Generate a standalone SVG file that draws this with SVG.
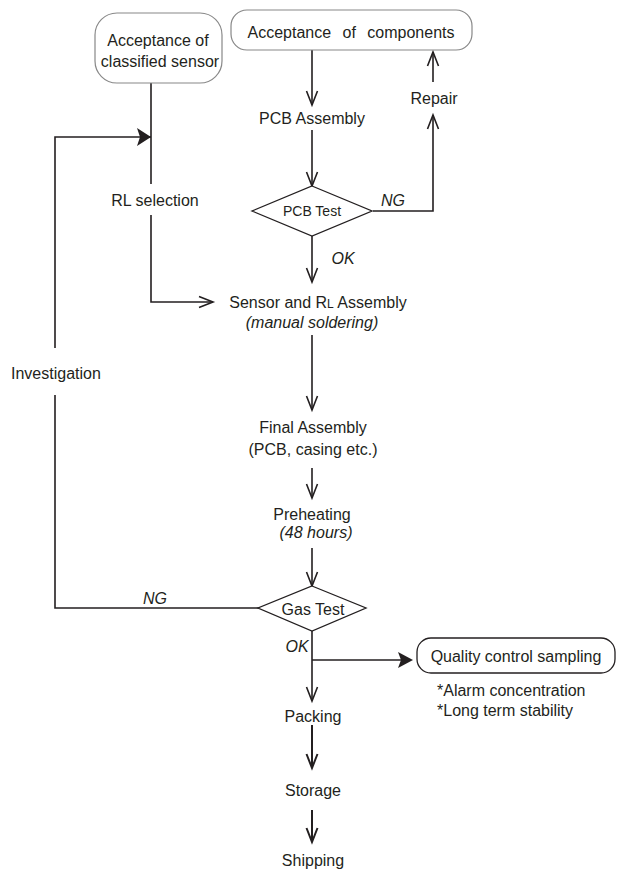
<svg xmlns="http://www.w3.org/2000/svg" width="621" height="869" viewBox="0 0 621 869">
<defs>
<style>
text{font-family:"Liberation Sans",Arial,sans-serif;font-size:16px;fill:#231f20;text-anchor:middle;dominant-baseline:central}
.it{font-style:italic}
.l{text-anchor:start}
.box{fill:#fff;stroke:#888;stroke-width:1.2}
.qbox{fill:#fff;stroke:#231f20;stroke-width:1.3}
.dia{fill:#fff;stroke:#231f20;stroke-width:1.3}
.c{fill:none;stroke:#231f20;stroke-width:1.6}
.v{fill:none;stroke:#231f20;stroke-width:1.6}
.f{fill:#231f20;stroke:none}
</style>
</defs>
<g id="connectors">
<line class="c" x1="312" y1="50" x2="312" y2="105"/>
<polyline class="v" points="306.5,91 312,105 317.5,91"/>
<line class="c" x1="312" y1="130" x2="312" y2="186"/>
<polyline class="v" points="306.5,172 312,186 317.5,172"/>
<polyline class="c" points="373,211 433,211 433,115"/>
<polyline class="v" points="427.5,129 433,115 438.5,129"/>
<line class="c" x1="433" y1="82" x2="433" y2="52"/>
<polyline class="v" points="427.5,66 433,52 438.5,66"/>
<text class="it" x="393" y="200">NG</text>
<line class="c" x1="312" y1="236" x2="312" y2="282"/>
<polyline class="v" points="306.5,268 312,282 317.5,268"/>
<text class="it" x="343" y="258">OK</text>
<line class="c" x1="151" y1="83" x2="151" y2="184"/>
<polyline class="c" points="151,215 151,302 213,302"/>
<polyline class="v" points="199,296.5 213,302 199,307.5"/>
<polyline class="c" points="263,608 55,608 55,395"/>
<polyline class="c" points="55,348 55,137 151,137"/>
<path class="f" d="M151,137 L137,128 L140,137 L137,146 Z"/>
<text class="it" x="155" y="598">NG</text>
<line class="c" x1="312" y1="335" x2="312" y2="410"/>
<polyline class="v" points="306.5,396 312,410 317.5,396"/>
<line class="c" x1="312" y1="468" x2="312" y2="498"/>
<polyline class="v" points="306.5,484 312,498 317.5,484"/>
<line class="c" x1="312" y1="548" x2="312" y2="586"/>
<polyline class="v" points="306.5,572 312,586 317.5,572"/>
<line class="c" x1="312" y1="631" x2="312" y2="701"/>
<polyline class="v" points="306.5,687 312,701 317.5,687"/>
<text class="it" x="297" y="646">OK</text>
<line class="c" x1="312" y1="660" x2="410" y2="660"/>
<path class="f" d="M413,660 L398,652 L401,660 L398,668 Z"/>
<line class="c" x1="312" y1="725" x2="312" y2="768" style="stroke-width:2"/>
<polyline class="v" points="306.5,754 312,768 317.5,754" style="stroke-width:2"/>
<line class="c" x1="312" y1="810" x2="312" y2="842" style="stroke-width:2"/>
<polyline class="v" points="306.5,828 312,842 317.5,828" style="stroke-width:2"/>
</g>
<g id="n-classified">
<rect class="box" x="95" y="13" width="127" height="70" rx="22"/>
<text x="158" y="40">Acceptance of</text>
<text x="160" y="61">classified sensor</text>
</g>
<g id="n-components">
<rect class="box" x="231" y="10" width="241" height="40" rx="16"/>
<text x="351" y="32" style="word-spacing:7px">Acceptance of components</text>
</g>
<g id="n-pcbasm">
<text x="312" y="118">PCB Assembly</text>
</g>
<g id="n-repair">
<text x="434" y="98">Repair</text>
</g>
<g id="n-pcbtest">
<polygon class="dia" points="312,186 372,211 312,236 252,211"/>
<text x="312" y="211" style="font-size:14px">PCB Test</text>
</g>
<g id="n-rlsel">
<text x="155" y="200">RL selection</text>
</g>
<g id="n-sensor">
<text x="318" y="308" style="dominant-baseline:alphabetic">Sensor and R<tspan style="font-size:12px">L</tspan> Assembly</text>
<text class="it" x="312" y="322">(manual soldering)</text>
</g>
<g id="n-investigation">
<text class="l" x="11" y="373">Investigation</text>
</g>
<g id="n-final">
<text x="313" y="427">Final Assembly</text>
<text x="313" y="449">(PCB, casing etc.)</text>
</g>
<g id="n-preheat">
<text x="312" y="514">Preheating</text>
<text class="it" x="316" y="532">(48 hours)</text>
</g>
<g id="n-gastest">
<polygon class="dia" points="312,586 366,608 312,631 258,608"/>
<text x="313" y="609">Gas Test</text>
</g>
<g id="n-qc">
<rect class="qbox" x="417" y="638" width="198" height="35" rx="14"/>
<text x="516" y="656">Quality control sampling</text>
<text class="l" x="437" y="690">*Alarm concentration</text>
<text class="l" x="437" y="710">*Long term stability</text>
</g>
<g id="n-packing">
<text x="313" y="716">Packing</text>
</g>
<g id="n-storage">
<text x="313" y="790">Storage</text>
</g>
<g id="n-shipping">
<text x="313" y="860">Shipping</text>
</g>
</svg>
